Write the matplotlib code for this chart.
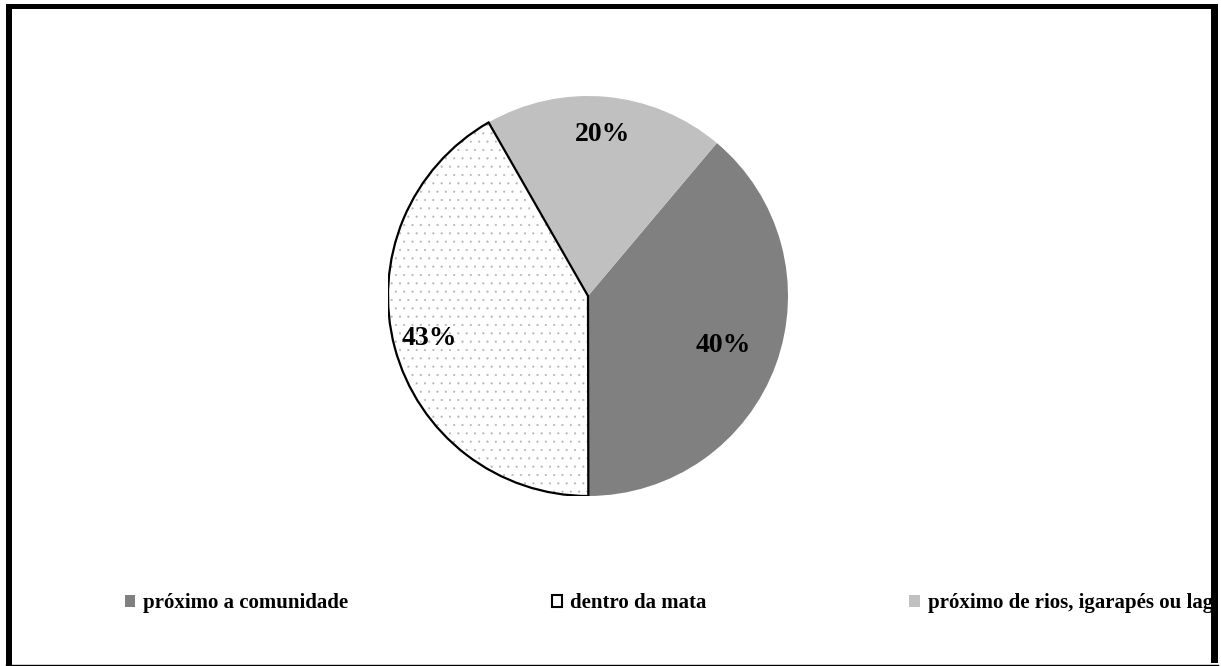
import matplotlib
matplotlib.use("Agg")
import matplotlib.pyplot as plt
import numpy as np
from matplotlib.patches import Patch, Rectangle, Wedge
from matplotlib.lines import Line2D

# Local de coleta (porcentagem das respostas)
categorias = ["próximo a comunidade", "dentro da mata", "próximo de rios, igarapés ou lagos"]
valores = [40, 43, 20]
cores = ["#808080", "#ffffff", "#c0c0c0"]

plt.rcParams["font.family"] = ["Liberation Serif", "DejaVu Serif"]
plt.rcParams["font.weight"] = "bold"
plt.rcParams["hatch.linewidth"] = 0.3

fig = plt.figure(figsize=(12.21, 6.66), dpi=100)
W, H = 1221, 666

# área do gráfico de pizza (centro ~ (588, 296), raio 200 px)
cx, cy, r = 588, 296, 200
ax = fig.add_axes([(cx - r) / W, (H - cy - r) / H, 2 * r / W, 2 * r / H])

wedges, _ = ax.pie(
    valores, colors=cores, startangle=49.9, counterclock=False, radius=1,
    wedgeprops=dict(linewidth=0, edgecolor="none"),
)
ax.set_xlim(-1, 1)
ax.set_ylim(-1, 1)
ax.set_aspect("equal")
ax.axis("off")

# rótulos de porcentagem no ângulo médio de cada fatia
dist = [0.72, 0.82, 0.81]
for w, v, d in zip(wedges, valores, dist):
    ang = np.deg2rad((w.theta1 + w.theta2) / 2)
    ax.text(d * np.cos(ang), d * np.sin(ang), f"{v}%", ha="center",
            va="center", fontsize=20, fontweight="bold", zorder=4)

# fatia pontilhada com contorno preto
w = wedges[1]
w.set_hatch("..")
w.set_edgecolor("#b4b4b4")
w.set_linewidth(0)
ax.add_patch(Wedge(w.center, w.r, w.theta1, w.theta2, fill=False,
                   edgecolor="black", linewidth=1.6, zorder=3))

# legenda
handles = [
    Patch(facecolor=cores[0], edgecolor="none"),
    Patch(facecolor=cores[1], edgecolor="black", linewidth=1.5),
    Patch(facecolor=cores[2], edgecolor="none"),
]
fig.legend(handles, categorias, loc="center left",
           bbox_to_anchor=(125 / W, 1 - 603 / H), ncol=3, frameon=False,
           borderpad=0, borderaxespad=0, handlelength=0.5, handleheight=0.5,
           handletextpad=0.38, columnspacing=9.75,
           prop=dict(family="Liberation Serif", weight="bold", size=15))

# moldura
fig.add_artist(Rectangle((1218 / W, 0), 3 / W, 1, transform=fig.transFigure,
                         facecolor="white", edgecolor="none", zorder=10))
fig.add_artist(Rectangle((6 / W, 1 - 665 / H), 6 / W, (665 - 4) / H,
                         transform=fig.transFigure, facecolor="black",
                         edgecolor="none", zorder=11))
fig.add_artist(Rectangle((6 / W, 1 - 9 / H), (1218 - 6) / W, 5 / H,
                         transform=fig.transFigure, facecolor="black",
                         edgecolor="none", zorder=11))
fig.add_artist(Rectangle((1211 / W, 1 - 663 / H), 7 / W, (663 - 4) / H,
                         transform=fig.transFigure, facecolor="black",
                         edgecolor="none", zorder=11))
fig.add_artist(Line2D([6 / W, 1218 / W], [1 - 664.5 / H, 1 - 664.5 / H],
                      transform=fig.transFigure, color="black",
                      linewidth=1, zorder=11))

fig.savefig("out.png", dpi=100)
